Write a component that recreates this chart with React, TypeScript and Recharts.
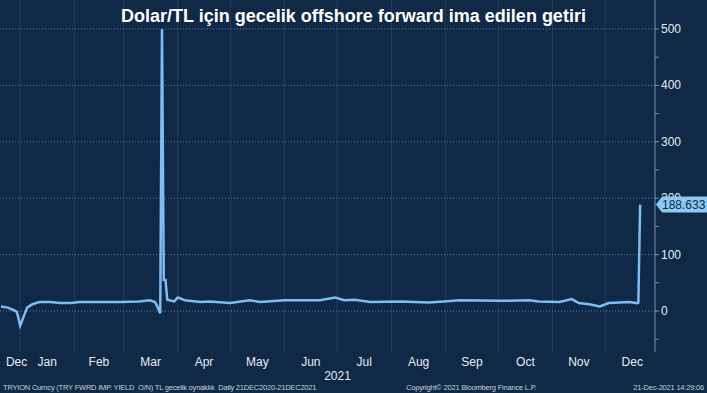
import React from "react";
import { LineChart, Line, XAxis, YAxis, ReferenceLine } from "recharts";

const dates = [
  "2020-12-21", "2020-12-25", "2020-12-28", "2020-12-30", "2020-12-31", "2021-01-01",
  "2021-01-03", "2021-01-05", "2021-01-08", "2021-01-12", "2021-01-18", "2021-01-24",
  "2021-01-30", "2021-02-04", "2021-02-16", "2021-02-27", "2021-03-10", "2021-03-16",
  "2021-03-19", "2021-03-20", "2021-03-22", "2021-03-23", "2021-03-24", "2021-03-25",
  "2021-03-26", "2021-03-30", "2021-04-01", "2021-04-05", "2021-04-14", "2021-04-19",
  "2021-05-01", "2021-05-12", "2021-05-18", "2021-06-01", "2021-06-21", "2021-06-30",
  "2021-07-05", "2021-07-11", "2021-07-20", "2021-08-06", "2021-08-22", "2021-08-31",
  "2021-09-09", "2021-10-02", "2021-10-19", "2021-10-24", "2021-11-05", "2021-11-12",
  "2021-11-16", "2021-11-22", "2021-11-28", "2021-12-03", "2021-12-09", "2021-12-15",
  "2021-12-19", "2021-12-20", "2021-12-21",
];
const yieldValues = [
  8, 6, 2, -1, -12, -26,
  -10, 6, 12, 16, 16, 14,
  14, 16, 16, 16, 17, 19,
  16, 10, -4, 500, 55, 55,
  20, 17, 24, 19, 16, 17,
  14, 19, 16, 19, 19, 24,
  19, 20, 16, 17, 15, 17,
  19, 18, 19, 17, 16, 21,
  14, 12, 8, 14, 15, 16,
  14, 15, 188.633,
];

const monthLabels = ["Dec", "Jan", "Feb", "Mar", "Apr", "May", "Jun", "Jul", "Aug", "Sep", "Oct", "Nov", "Dec"];
const monthStartDates = [
  "2021-01-01", "2021-02-01", "2021-03-01", "2021-04-01", "2021-05-01", "2021-06-01",
  "2021-07-01", "2021-08-01", "2021-09-01", "2021-10-01", "2021-11-01", "2021-12-01", "2022-01-01",
];
const firstLabelDate = "2020-12-30";
const lastValue = 188.633;
const yTickValues = [-50, 0, 50, 100, 150, 200, 250, 300, 350, 400, 450, 500, lastValue];
const yGridValues = [0, 100, 200, 300, 400, 500];
const yearLabel = "2021";

const toTs = (s: string) => Date.parse(s + "T00:00:00Z");
const data = dates.map((d, i) => ({ t: toTs(d), v: yieldValues[i] }));
const monthStarts = monthStartDates.map(toTs);
const gridMonths = monthStarts.slice(0, 12);
const monthTicks = [
  toTs(firstLabelDate),
  ...monthStarts.slice(0, 12).map((s, i) => (s + monthStarts[i + 1]) / 2),
];
const xDomain = [Date.parse("2020-12-20T12:00:00Z"), Date.parse("2021-12-29T12:00:00Z")];
const yDomain = [-72.7, 551.4];

const BG = "#0f2946";
const FONT = "'Liberation Sans', Arial, sans-serif";
const NARROW = "'Liberation Sans Narrow', 'Liberation Sans', Arial, sans-serif";

const XTick = (props: any) => {
  const { x, y, payload } = props;
  const idx = monthTicks.findIndex((m) => Math.abs(m - payload.value) < 1000);
  return (
    <text x={x} y={y} dy={6} textAnchor="middle" fill="#e6ecf2" fontSize={12} fontFamily={FONT}>
      {idx >= 0 ? monthLabels[idx] : ""}
    </text>
  );
};

const YTick = (props: any) => {
  const { x, y, payload } = props;
  if (payload.value === lastValue) {
    const left = x - 5;
    return (
      <g>
        <path
          d={`M${left},${y} L${left + 6},${y - 8} L707,${y - 8} L707,${y + 8} L${left + 6},${y + 8} Z`}
          fill="#8dc9f5"
        />
        <text x={left + 6} y={y + 4.5} fontSize={12} fill="#0d2743" fontFamily={FONT}>
          {lastValue.toFixed(3)}
        </text>
      </g>
    );
  }
  if (payload.value % 100 !== 0) return <g />;
  return (
    <text x={x} y={y} dy={4} textAnchor="start" fill="#e6ecf2" fontSize={12} fontFamily={FONT}>
      {payload.value}
    </text>
  );
};

export default function App() {
  return (
    <div style={{ position: "absolute", left: 0, top: 0, width: 707, height: 393, background: BG, overflow: "hidden" }}>
      <LineChart
        width={707}
        height={393}
        data={data}
        margin={{ top: 0, right: 0, left: 0, bottom: 0 }}
        style={{ position: "absolute", left: 0, top: 0 }}
      >
        {gridMonths.map((m) => (
          <ReferenceLine key={"v" + m} x={m} stroke="#233f5e" strokeWidth={1} />
        ))}
        {yGridValues.map((v) => (
          <ReferenceLine key={"h" + v} y={v} stroke="#6a7d92" strokeDasharray="1 2" strokeWidth={1} />
        ))}
        <XAxis
          dataKey="t"
          type="number"
          domain={xDomain}
          ticks={monthTicks}
          tick={<XTick />}
          axisLine={false}
          tickLine={false}
          height={41}
          interval={0}
          allowDataOverflow
        />
        <YAxis
          orientation="right"
          type="number"
          domain={yDomain}
          ticks={yTickValues}
          tick={<YTick />}
          width={52}
          tickSize={4}
          tickMargin={2}
          interval={0}
          axisLine={{ stroke: "#7891ab", strokeWidth: 1 }}
          tickLine={{ stroke: "#7891ab", strokeWidth: 1 }}
          allowDataOverflow
        />
        <Line
          type="linear"
          dataKey="v"
          stroke="#7dbdf4"
          strokeWidth={2.5}
          dot={false}
          activeDot={false}
          isAnimationActive={false}
        />
      </LineChart>
      <div
        style={{
          position: "absolute", left: 0, width: 707, top: 5, textAlign: "center", color: "#ffffff",
          fontFamily: NARROW, fontWeight: "bold", fontSize: 18, lineHeight: "22px", whiteSpace: "nowrap",
        }}
      >
        Dolar/TL için gecelik offshore forward ima edilen getiri
      </div>
      <div
        style={{
          position: "absolute", left: 20, width: 635, top: 369, textAlign: "center", color: "#e6ecf2",
          fontFamily: FONT, fontSize: 12, lineHeight: "14px",
        }}
      >
        {yearLabel}
      </div>
      <div
        style={{
          position: "absolute", left: 3, top: 383, color: "#c9d2dc", whiteSpace: "nowrap",
          fontFamily: NARROW, fontSize: 7.5, letterSpacing: -0.2, lineHeight: "10px",
        }}
      >
        TRYION Curncy (TRY FWRD IMP. YIELD&nbsp; O/N) TL gecelik oynaklık&nbsp; Daily 21DEC2020-21DEC2021
      </div>
      <div
        style={{
          position: "absolute", left: 406, top: 383, color: "#c9d2dc", whiteSpace: "nowrap",
          fontFamily: NARROW, fontSize: 7.5, letterSpacing: -0.2, lineHeight: "10px",
        }}
      >
        Copyright© 2021 Bloomberg Finance L.P.
      </div>
      <div
        style={{
          position: "absolute", right: 3, top: 383, color: "#c9d2dc", whiteSpace: "nowrap",
          fontFamily: NARROW, fontSize: 7.5, letterSpacing: -0.2, lineHeight: "10px",
        }}
      >
        21-Dec-2021 14:29:06
      </div>
    </div>
  );
}
